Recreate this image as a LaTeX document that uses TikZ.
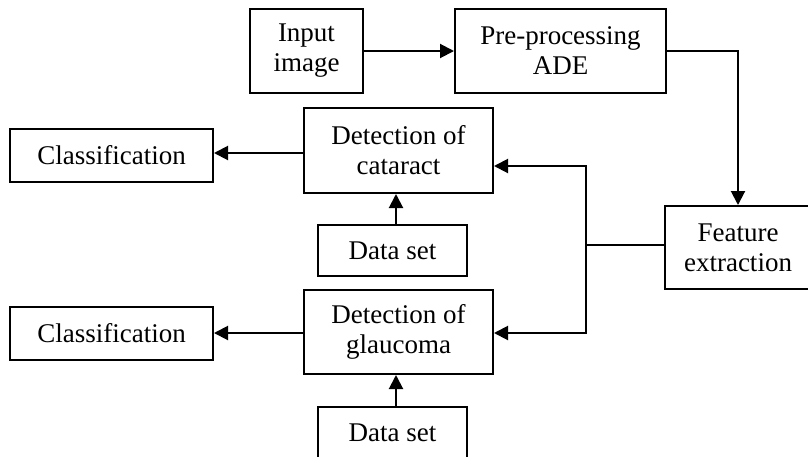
\documentclass[tikz,border=0pt]{standalone}
\usepackage{fontspec}
\setmainfont{Liberation Serif}
\usetikzlibrary{arrows.meta}
\begin{document}
\begin{tikzpicture}[x=1pt,y=-1pt,
  box/.style={draw,line width=2pt,inner sep=0pt,align=center,
    font=\fontsize{27}{30}\selectfont},
  arr/.style={line width=2pt,-{Triangle[length=14pt,width=14pt]}},
  ln/.style={line width=2pt}]
\useasboundingbox (0,0) rectangle (808,456);
\node[box,minimum width=113pt,minimum height=84pt] (inp) at (306.5,51) {Input\\image};
\node[box,minimum width=211pt,minimum height=84pt] (pre) at (560.5,51) {Pre-processing\\ADE};
\node[box,minimum width=146pt,minimum height=83pt] (feat) at (738,247.5) {Feature\\extraction};
\node[box,minimum width=189pt,minimum height=85pt] (cat) at (398.5,150.5) {Detection of\\cataract};
\node[box,minimum width=149pt,minimum height=51pt] (ds1) at (392.5,250.5) {Data set};
\node[box,minimum width=189pt,minimum height=84pt] (gla) at (398.5,332) {Detection of\\glaucoma};
\node[box,minimum width=149pt,minimum height=51pt] (ds2) at (392.5,432.5) {Data set};
\node[box,minimum width=203pt,minimum height=53pt] (cl1) at (111.5,155.5) {Classification};
\node[box,minimum width=203pt,minimum height=53pt] (cl2) at (111.5,333.5) {Classification};
\coordinate (j) at (586,245);
\draw[arr] (inp.east) -- (pre.west);
\draw[arr] (pre.east) -| (feat.north);
\draw[ln] (feat.west |- j) -- (j);
\draw[arr] (586,245) |- (cat.east |- 0,166);
\draw[arr] (586,245) |- (gla.east |- 0,333);
\draw[arr] (cat.west |- 0,153) -- (cl1.east |- 0,153);
\draw[arr] (gla.west |- 0,333) -- (cl2.east |- 0,333);
\draw[arr] (ds1.north -| 396,0) -- (cat.south -| 396,0);
\draw[arr] (ds2.north -| 396,0) -- (gla.south -| 396,0);
\end{tikzpicture}
\end{document}
